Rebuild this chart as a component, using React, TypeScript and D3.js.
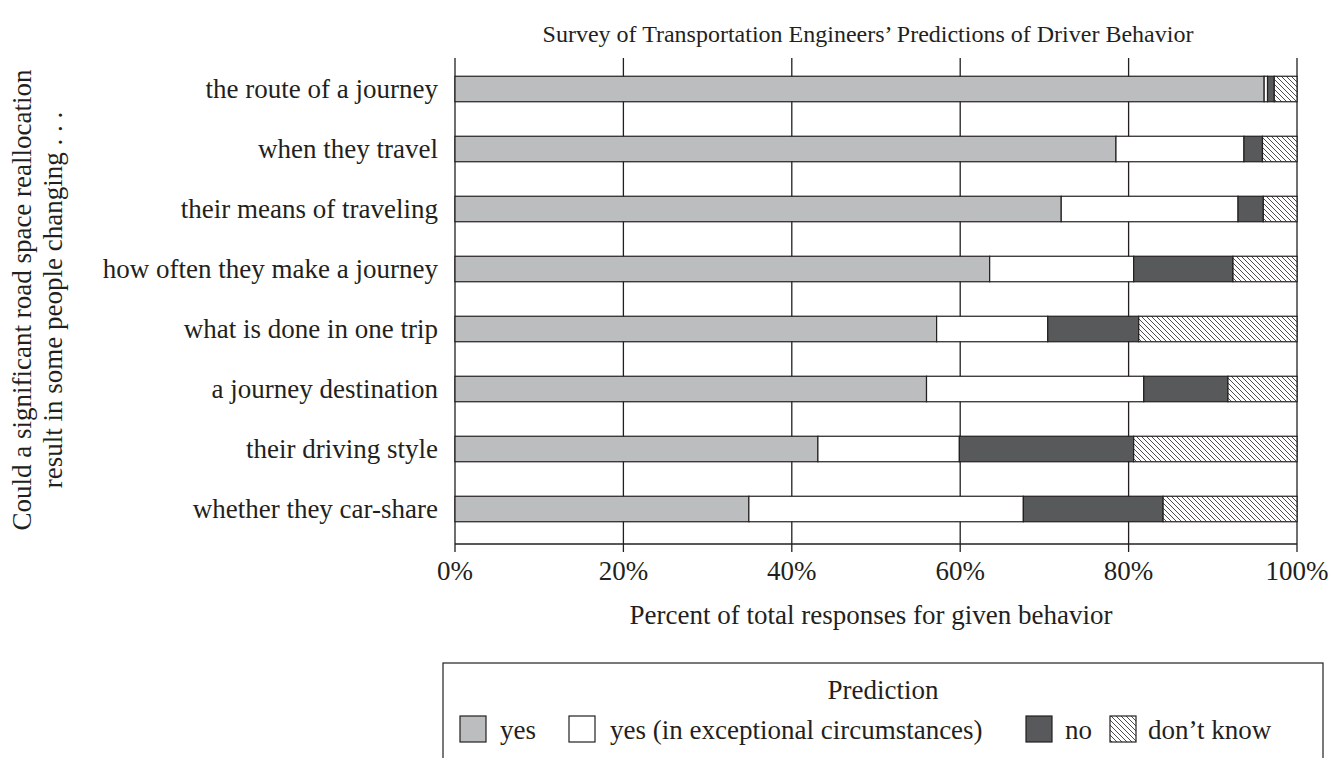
import React from "react";
import * as d3 from "d3";

const categories = [
  "the route of a journey",
  "when they travel",
  "their means of traveling",
  "how often they make a journey",
  "what is done in one trip",
  "a journey destination",
  "their driving style",
  "whether they car-share",
];
const seriesKeys = ["yes", "exceptional", "no", "dontknow"];
const seriesLabels = ["yes", "yes (in exceptional circumstances)", "no", "don\u2019t know"];
const yesValues = [96.1, 78.5, 72.0, 63.5, 57.2, 56.0, 43.1, 34.9];
const exceptionalValues = [0.4, 15.2, 21.0, 17.1, 13.2, 25.8, 16.8, 32.6];
const noValues = [0.8, 2.2, 3.0, 11.8, 10.8, 10.0, 20.7, 16.6];
const dontKnowValues = [2.7, 4.1, 4.0, 7.6, 18.8, 8.2, 19.4, 15.9];
const xTicks = [0, 20, 40, 60, 80, 100];

const title = "Survey of Transportation Engineers\u2019 Predictions of Driver Behavior";
const xTitle = "Percent of total responses for given behavior";
const yTitleLines = ["Could a significant road space reallocation", "result in some people changing . . ."];
const legendTitle = "Prediction";

const FONT = "'Liberation Serif', 'Times New Roman', serif";
const INK = "#231f20";
const fills: Record<string, string> = {
  yes: "#bcbdbf",
  exceptional: "#ffffff",
  no: "#58595b",
  dontknow: "url(#hatch)",
};

export default function App() {
  const W = 1341;
  const H = 758;
  const FS = 27;
  const rows = categories.map((c, i) => ({
    cat: c,
    yes: yesValues[i],
    exceptional: exceptionalValues[i],
    no: noValues[i],
    dontknow: dontKnowValues[i],
  }));
  const stacked = d3.stack<any>().keys(seriesKeys)(rows);

  const x = d3.scaleLinear().domain([0, 100]).range([455, 1297]);
  const y = d3
    .scaleBand<string>()
    .domain(categories)
    .range([59, 539])
    .paddingInner(0.575)
    .paddingOuter(0.2875);

  const gridTop = 58;
  const axisY = 544;

  const legendSquares = [460, 569, 1026, 1110];
  const legendTexts = [500, 610, 1065, 1148];

  return (
    <svg
      width={W}
      height={H}
      style={{ position: "absolute", left: 0, top: 0, background: "#fff" }}
      fontFamily={FONT}
    >
      <defs>
        <pattern id="hatch" width={5} height={5} patternUnits="userSpaceOnUse">
          <rect width={5} height={5} fill="#fff" />
          <path d="M0,0 L5,5 M-1,4 L1,6 M4,-1 L6,1" stroke={INK} strokeWidth={0.8} />
        </pattern>
      </defs>
      <rect width={W} height={H} fill="#fff" />

      {/* title */}
      <text x={868} y={42} textAnchor="middle" fontSize={24} fill={INK}>
        {title}
      </text>

      {/* grid lines */}
      {xTicks.map((t) => (
        <line
          key={"g" + t}
          x1={x(t)}
          x2={x(t)}
          y1={gridTop}
          y2={axisY + 8}
          stroke={INK}
          strokeWidth={1.3}
        />
      ))}
      {/* x axis line */}
      <line x1={x(0)} x2={x(100)} y1={axisY} y2={axisY} stroke={INK} strokeWidth={1.3} />

      {/* bars */}
      {stacked.map((s) => (
        <g key={s.key}>
          {s.map((d: any, i: number) => (
            <rect
              key={i}
              x={x(d[0])}
              y={y(categories[i])}
              width={Math.max(0, x(d[1]) - x(d[0]))}
              height={y.bandwidth()}
              fill={fills[s.key]}
              stroke={INK}
              strokeWidth={1.2}
            />
          ))}
        </g>
      ))}

      {/* category labels */}
      {categories.map((c) => (
        <text
          key={c}
          x={438}
          y={(y(c) as number) + y.bandwidth() / 2}
          dy="0.33em"
          textAnchor="end"
          fontSize={FS}
          fill={INK}
        >
          {c}
        </text>
      ))}

      {/* x tick labels */}
      {xTicks.map((t) => (
        <text key={"t" + t} x={x(t)} y={580} textAnchor="middle" fontSize={FS} fill={INK}>
          {t + "%"}
        </text>
      ))}

      {/* x title */}
      <text x={871} y={624} textAnchor="middle" fontSize={FS} fill={INK}>
        {xTitle}
      </text>

      {/* y title */}
      {yTitleLines.map((l, i) => (
        <text
          key={l}
          transform={`translate(${31 + i * 31},300) rotate(-90)`}
          textAnchor="middle"
          fontSize={FS}
          fill={INK}
        >
          {l}
        </text>
      ))}

      {/* legend */}
      <rect x={443} y={663} width={880} height={120} fill="#fff" stroke={INK} strokeWidth={1.2} />
      <text x={883} y={699} textAnchor="middle" fontSize={FS} fill={INK}>
        {legendTitle}
      </text>
      {seriesKeys.map((k, i) => (
        <g key={"l" + k}>
          <rect
            x={legendSquares[i]}
            y={716}
            width={26}
            height={26}
            fill={fills[k]}
            stroke={INK}
            strokeWidth={1.2}
          />
          <text x={legendTexts[i]} y={739} fontSize={FS} fill={INK}>
            {seriesLabels[i]}
          </text>
        </g>
      ))}
    </svg>
  );
}
